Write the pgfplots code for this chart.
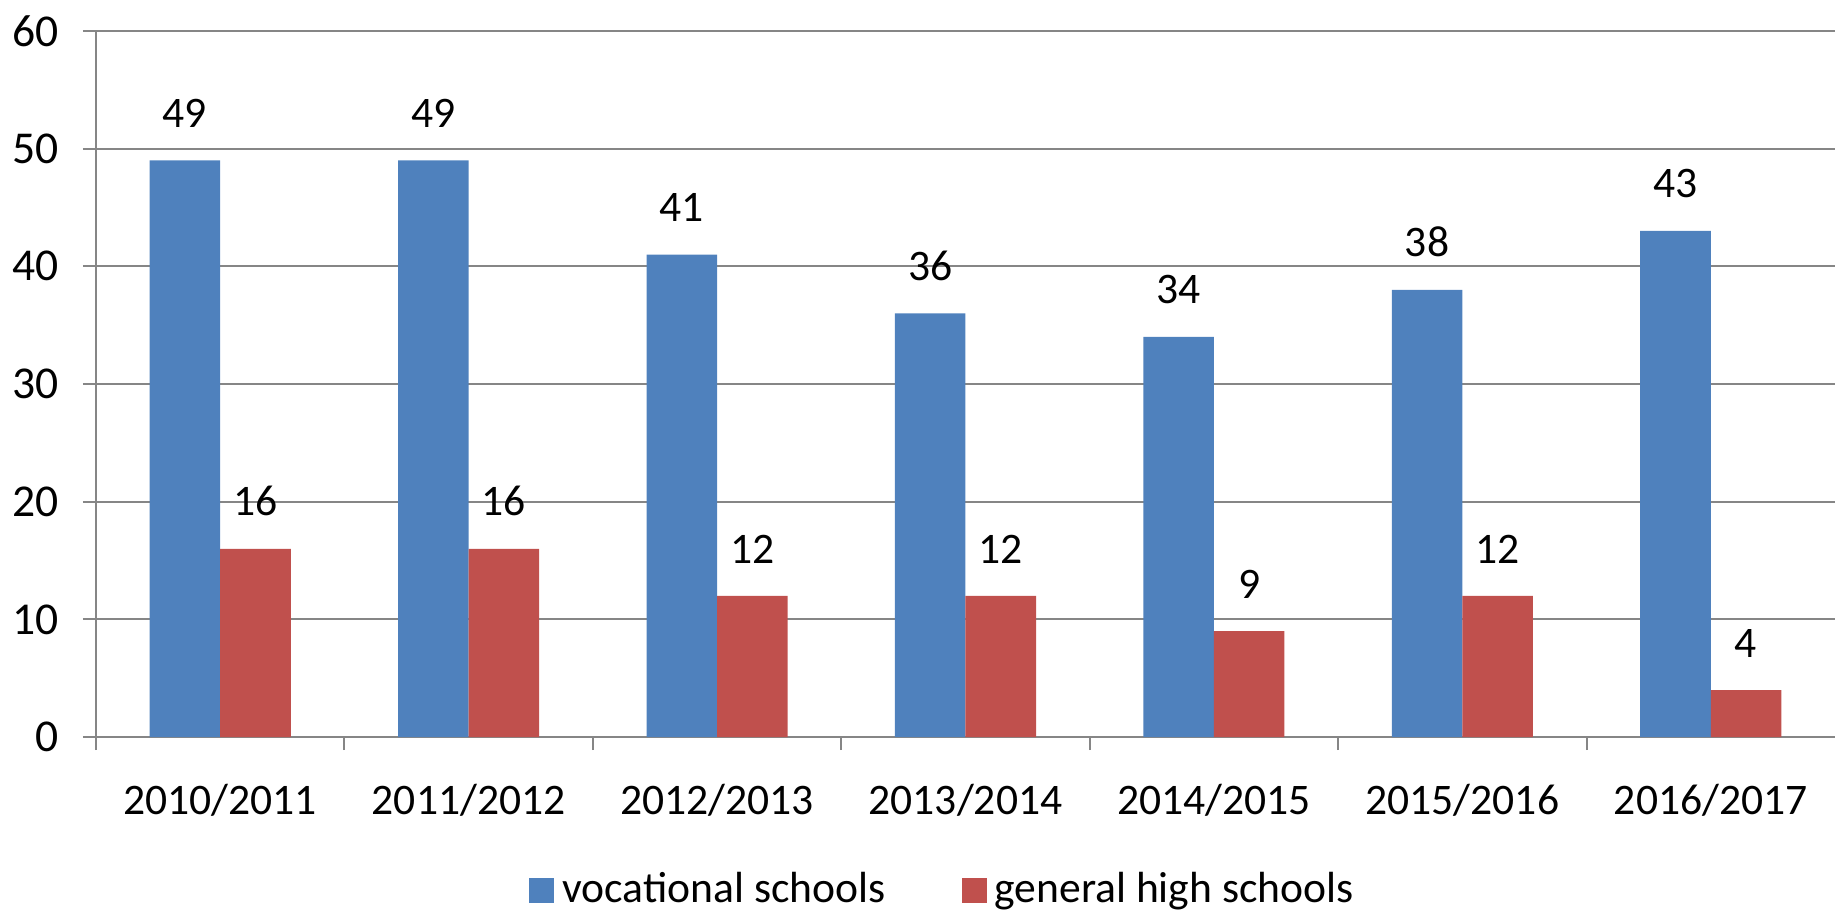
\documentclass[border=0pt]{standalone}
\usepackage{pgfplots}
\pgfplotsset{compat=1.18}
\usepackage{fontspec}
\setmainfont{Carlito}
\definecolor{barblue}{RGB}{79,129,189}
\definecolor{barred}{RGB}{192,80,77}
\definecolor{axgray}{RGB}{134,134,134}
\pgfplotsset{sqlegend/.style={legend image code/.code={\fill[##1] (0pt,-3.125pt) rectangle (6.25pt,3.125pt);}}}
\begin{document}
\begin{tikzpicture}[font=\fontsize{10.9}{13}\selectfont]
\begin{axis}[
  scale only axis, width=434.75pt, height=176.6pt,
  xmin=-0.5, xmax=6.5, ymin=0, ymax=60,
  ybar=0pt, bar width=0.284,
  axis x line*=bottom, axis y line*=left,
  axis line style={-, axgray, line width=0.5pt},
  ytick={0,10,...,60}, ymajorgrids, grid style={axgray, line width=0.5pt},
  xtick={0,...,6},
  xticklabels={2010/2011,2011/2012,2012/2013,2013/2014,2014/2015,2015/2016,2016/2017},
  major x tick style={draw=none},
  minor xtick={-0.5,0.5,...,5.5},
  tick align=outside, major tick length=3.25pt, minor tick length=3.25pt,
  tick style={axgray, line width=0.5pt},
  /pgf/number format/assume math mode=true,
  ticklabel style={font=\fontsize{10.9}{13}\selectfont, text=black},
  yticklabel style={xshift=-2.5pt, font=\fontsize{11.4}{13}\selectfont},
  xticklabel style={yshift=-5pt},
  nodes near coords,
  nodes near coords style={font=\fontsize{10.9}{13}\selectfont, anchor=south, inner sep=0pt, yshift=8pt, text=black},
  legend style={draw=none, at={(0.4885,-0.217)}, anchor=center, inner sep=0pt,
    nodes={inner ysep=0.5pt},
    font=\fontsize{10.9}{13}\selectfont,
    /tikz/every even column/.append style={column sep=17pt}},
  legend columns=2,
]
\addplot[fill=barblue, draw=none, sqlegend] coordinates {(0,49) (1,49) (2,41) (3,36) (4,34) (5,38) (6,43)};
\addplot[fill=barred, draw=none, sqlegend] coordinates {(0,16) (1,16) (2,12) (3,12) (4,9) (5,12) (6,4)};
\legend{vocational schools, general high schools}
\end{axis}
\pgfresetboundingbox
\path (-24pt,-43.5pt) rectangle (434.75pt,184.3pt);
\end{tikzpicture}
\end{document}
